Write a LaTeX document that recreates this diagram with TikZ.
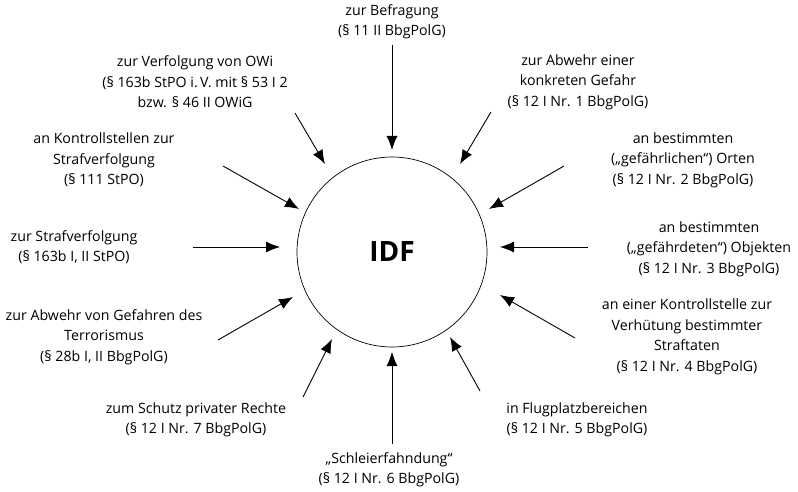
\documentclass[tikz,border=0pt]{standalone}
\usepackage{fontspec}
\setmainfont{Open Sans}
\usepackage{tikz}
\usetikzlibrary{arrows.meta}

\tikzset{
  lbl/.style={align=center, inner sep=0pt, font=\fontsize{14.2}{20.5}\selectfont},
  pfeil/.style={-{Latex[length=14pt,width=11pt]}, line width=0.9pt}
}

\begin{document}
\begin{tikzpicture}[x=1pt, y=-1pt]
        \useasboundingbox (0,0) rectangle (798,492);

        \node[draw, circle, minimum size=190pt, line width=0.7pt] (idf) at (392,252)
            {\fontsize{28}{30}\selectfont\bfseries IDF};

        \node[lbl] (befr) at (392, 22) {zur Befragung\\(§ 11 II BbgPolG)};
        \node[lbl] (owi) at (195, 82) {zur Verfolgung von OWi\\(§ 163b StPO i.\,V. mit § 53 I 2\\bzw. § 46 II OWiG};
        \node[lbl] (kstp) at (104, 160) {an Kontrollstellen zur\\Strafverfolgung\\(§ 111 StPO)};
        \node[lbl] (stpo) at (74, 247) {zur Strafverfolgung\\(§ 163b I, II StPO)};
        \node[lbl] (terr) at (104, 337) {zur Abwehr von Gefahren des\\Terrorismus\\(§ 28b I, II BbgPolG)};
        \node[lbl] (priv) at (196, 420) {zum Schutz privater Rechte\\(§ 12 I Nr. 7 BbgPolG)};
        \node[lbl] (schl) at (389, 470) {„Schleierfahndung“\\(§ 12 I Nr. 6 BbgPolG)};
        \node[lbl] (flug) at (577, 420) {in Flugplatzbereichen\\(§ 12 I Nr. 5 BbgPolG)};
        \node[lbl] (kvst) at (687, 337) {an einer Kontrollstelle zur\\Verhütung bestimmter\\Straftaten\\(§ 12 I Nr. 4 BbgPolG)};
        \node[lbl] (obj) at (709, 249) {an bestimmten\\(„gefährdeten“) Objekten\\(§ 12 I Nr. 3 BbgPolG)};
        \node[lbl] (ort) at (683, 160) {an bestimmten\\(„gefährlichen“) Orten\\(§ 12 I Nr. 2 BbgPolG)};
        \node[lbl] (gef) at (578, 82) {zur Abwehr einer\\konkreten Gefahr\\(§ 12 I Nr. 1 BbgPolG)};

        % Pfeile zum Kreis
        \coordinate (befr-s) at (392,45);  \coordinate (befr-e) at (392,150);
        \coordinate (owi-s) at (295,113);  \coordinate (owi-e) at (325,164);
        \coordinate (kstp-s) at (223,166); \coordinate (kstp-e) at (299,209);
        \coordinate (stpo-s) at (193,247); \coordinate (stpo-e) at (280,247);
        \coordinate (terr-s) at (218,340); \coordinate (terr-e) at (293,297);
        \coordinate (priv-s) at (303,397); \coordinate (priv-e) at (332,339);
        \coordinate (schl-s) at (392,444); \coordinate (schl-e) at (392,352);
        \coordinate (flug-s) at (480,391); \coordinate (flug-e) at (450,337);
        \coordinate (kvst-s) at (575,338); \coordinate (kvst-e) at (500,295);
        \coordinate (obj-s) at (588,247);  \coordinate (obj-e) at (500,247);
        \coordinate (ort-s) at (564,166);  \coordinate (ort-e) at (489,209);
        \coordinate (gef-s) at (491,112);  \coordinate (gef-e) at (460,164);

        \foreach \n in {befr,owi,kstp,stpo,terr,priv,schl,flug,kvst,obj,ort,gef}
            \draw[pfeil] (\n-s) -- (\n-e);
    \end{tikzpicture}
\end{document}
